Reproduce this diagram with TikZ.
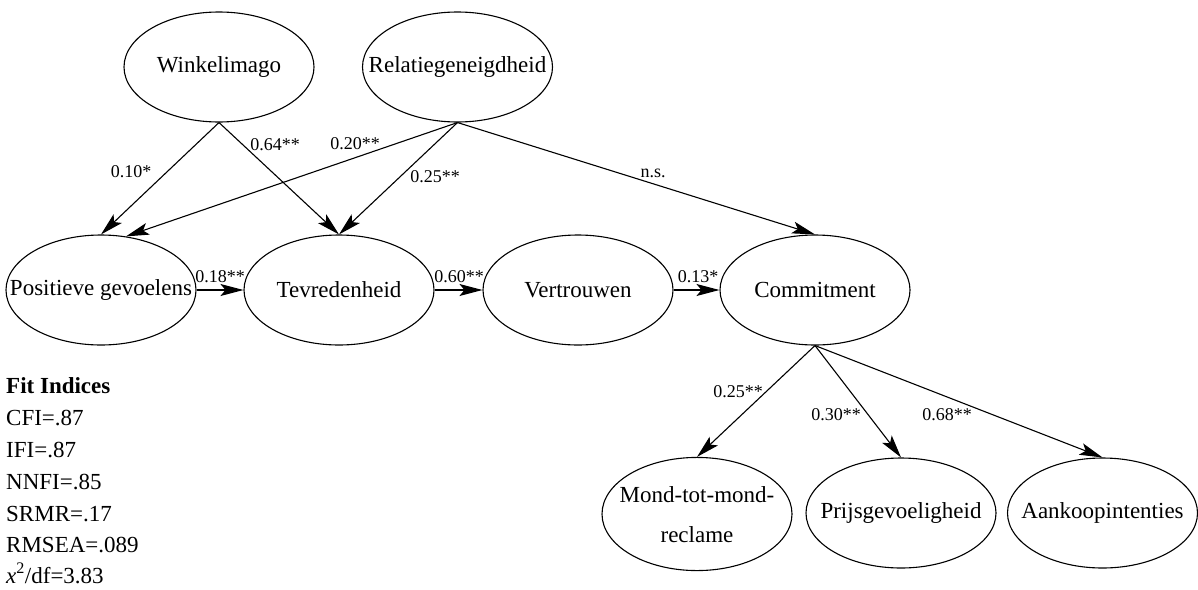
\documentclass[tikz,border=0pt]{standalone}
\usepackage{fontspec}
\setmainfont{Liberation Serif}
\usetikzlibrary{arrows.meta,shapes.geometric}
\newcommand\zw[1]{\makebox[0pt]{#1}}
\begin{document}
\begin{tikzpicture}[x=1pt,y=-1pt,
  lat/.style={draw, ellipse, line width=1.1pt, minimum width=190pt, minimum height=110pt, inner sep=0pt, font=\fontsize{23}{28}\selectfont},
  conn/.style={-{Stealth[length=23pt,width=12pt,inset=5pt]}, line width=1.1pt},
  coef/.style={font=\fontsize{18}{20}\selectfont, inner sep=0pt},
  fitline/.style={anchor=base west, inner sep=0pt, font=\fontsize{23}{28}\selectfont}
]
\useasboundingbox (0,0) rectangle (1198,589);

% latent variables
\node[lat] (wi) at (219,67) {\zw{Winkelimago}};
\node[lat] (rg) at (457.5,67) {\zw{Relatiegeneigdheid}};
\node[lat] (pg) at (101,290) {\zw{Positieve gevoelens}};
\node[lat] (tv) at (339,290) {\zw{Tevredenheid}};
\node[lat] (vt) at (578,290) {\zw{Vertrouwen}};
\node[lat] (cm) at (815,290) {\zw{Commitment}};
\node[lat] (mm) at (697,514) {\zw{\fontsize{23}{40}\selectfont\begin{tabular}{@{}c@{}}Mond-tot-mond-\\reclame\end{tabular}}};
\node[lat] (pr) at (901,513) {\zw{Prijsgevoeligheid}};
\node[lat] (ak) at (1102.5,513) {\zw{Aankoopintenties}};

% paths
\draw[conn] (wi.south) -- (pg.north);
\draw[conn] (wi.south) -- (tv.north);
\draw[conn] (rg.south) -- (pg.65);
\draw[conn] (rg.south) -- (tv.north);
\draw[conn] (rg.south) -- (cm.north);
\draw[conn] (pg.east) -- (tv.west);
\draw[conn] (tv.east) -- (vt.west);
\draw[conn] (vt.east) -- (cm.west);
\draw[conn] (cm.south) -- (mm.north);
\draw[conn] (cm.south) -- (pr.north);
\draw[conn] (cm.south) -- (ak.north);

% coefficients
\node[coef] (c1) at (131,172) {0.10*};
\node[coef] (c2) at (275,145) {0.64**};
\node[coef] (c3) at (355,144) {0.20**};
\node[coef] (c4) at (435,177) {0.25**};
\node[coef] (c5) at (653,173) {n.s.};
\node[coef] (c6) at (220,277) {0.18**};
\node[coef] (c7) at (459,277) {0.60**};
\node[coef] (c8) at (698,277) {0.13*};
\node[coef] (c9) at (738,392) {0.25**};
\node[coef] (c10) at (836,415) {0.30**};
\node[coef] (c11) at (947,415) {0.68**};

% fit indices
\node[fitline] (f0) at (6,393) {\textbf{Fit Indices}};
\node[fitline] (f1) at (6,425) {CFI=.87};
\node[fitline] (f2) at (6,457) {IFI=.87};
\node[fitline] (f3) at (6,489) {NNFI=.85};
\node[fitline] (f4) at (6,521) {SRMR=.17};
\node[fitline] (f5) at (6,552) {RMSEA=.089};
\node[fitline] (f6) at (6,583) {\textit{x}\textsuperscript{2}/df=3.83};
\end{tikzpicture}
\end{document}
